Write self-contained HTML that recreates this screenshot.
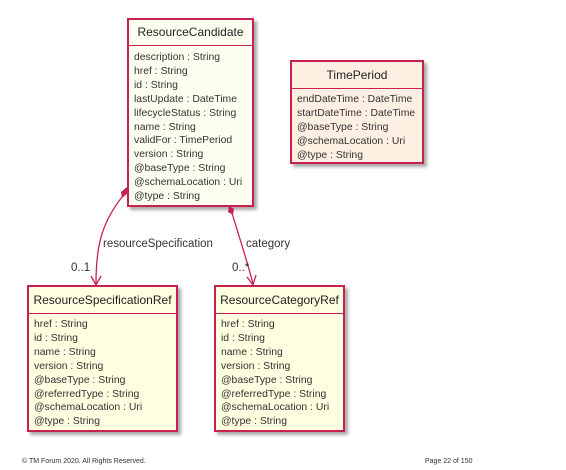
<!DOCTYPE html>
<html><head><style>
body{margin:0;width:566px;height:470px;background:#fff;position:relative;font-family:"Liberation Sans",sans-serif;overflow:hidden}
.box{position:absolute;border:2px solid #c8204f;box-shadow:3px 3px 3px #aaa;box-sizing:border-box}
.h{text-align:center;font-size:12px;border-bottom:1.5px solid #c8204f;color:#222}
.b{font-size:10.4px;line-height:13.9px;color:#333;padding:5px 0 0 5px;white-space:nowrap}
.t{position:absolute;font-size:11.5px;color:#333;white-space:nowrap}
</style></head><body>
<div class="box" style="left:127px;top:18px;width:127px;height:189px;background:#fefef0">
<div class="h" style="height:25px;line-height:25px;background:#fefef0">ResourceCandidate</div>
<div class="b">description : String<br>href : String<br>id : String<br>lastUpdate : DateTime<br>lifecycleStatus : String<br>name : String<br>validFor : TimePeriod<br>version : String<br>@baseType : String<br>@schemaLocation : Uri<br>@type : String</div></div>
<div class="box" style="left:290px;top:60px;width:134px;height:104px;background:#fdf0e2">
<div class="h" style="height:26px;line-height:26px">TimePeriod</div>
<div class="b" style="padding-top:4px">endDateTime : DateTime<br>startDateTime : DateTime<br>@baseType : String<br>@schemaLocation : Uri<br>@type : String</div></div>
<div class="box" style="left:27px;top:285px;width:151px;height:147px;background:#fefee0">
<div class="h" style="height:26px;line-height:26px">ResourceSpecificationRef</div>
<div class="b" style="padding-top:4px">href : String<br>id : String<br>name : String<br>version : String<br>@baseType : String<br>@referredType : String<br>@schemaLocation : Uri<br>@type : String</div></div>
<div class="box" style="left:214px;top:285px;width:131px;height:147px;background:#fefee0">
<div class="h" style="height:26px;line-height:26px">ResourceCategoryRef</div>
<div class="b" style="padding-top:4px">href : String<br>id : String<br>name : String<br>version : String<br>@baseType : String<br>@referredType : String<br>@schemaLocation : Uri<br>@type : String</div></div>
<svg width="566" height="470" style="position:absolute;left:0;top:0">
<g stroke="#c8204f" stroke-width="1.3" fill="none">
<path d="M122,197 C100,225 96,250 96,284"/>
<path d="M232,213 C240,240 247,260 253,284"/>
<path d="M91,276 L96,285 L101,276"/>
<path d="M247,277 L253,285 L256,275"/>
</g>
<g fill="#c8204f">
<path d="M127,187 L128,193 L122,198 L121,192 Z"/>
<path d="M229,206 L234,209 L233,215 L228,212 Z"/>
</g>
</svg>
<div class="t" style="left:103px;top:238px">resourceSpecification</div>
<div class="t" style="left:246px;top:238px">category</div>
<div class="t" style="left:71px;top:262px">0..1</div>
<div class="t" style="left:232px;top:262px">0..*</div>
<div style="position:absolute;left:22px;top:458px;font-size:7px;color:#333">© TM Forum 2020. All Rights Reserved.</div>
<div style="position:absolute;left:425px;top:458px;font-size:7px;color:#333">Page 22 of 150</div>
</body></html>
